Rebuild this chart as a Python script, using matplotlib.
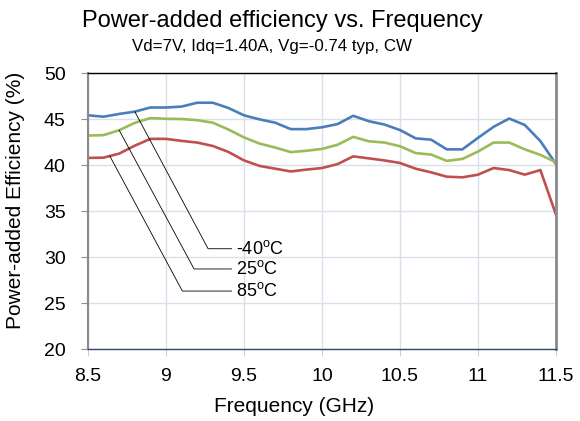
#!/usr/bin/env python
"""
Power-added efficiency vs. frequency at three temperatures.
"""

import numpy as np
import matplotlib
matplotlib.use('Agg')
import matplotlib.pyplot as plt

plt.rcParams['font.family'] = ['Liberation Sans', 'DejaVu Sans']
plt.rcParams['mathtext.fontset'] = 'custom'
plt.rcParams['mathtext.rm'] = 'Liberation Sans'

# data
freq = [8.5, 8.6, 8.7, 8.8, 8.9, 9.0, 9.1, 9.2, 9.3, 9.4, 9.5, 9.6, 9.7, 9.8, 9.9, 10.0,
        10.1, 10.2, 10.3, 10.4, 10.5, 10.6, 10.7, 10.8, 10.9, 11.0, 11.1, 11.2, 11.3, 11.4, 11.5]
pae_m40 = [45.4, 45.25, 45.55, 45.8, 46.25, 46.25, 46.35, 46.77, 46.77, 46.2, 45.4, 44.96, 44.6, 43.9, 43.9, 44.1,
           44.45, 45.35, 44.76, 44.4, 43.8, 42.9, 42.75, 41.7, 41.7, 42.95, 44.15, 45.05, 44.35, 42.6, 40.1]
pae_25 = [43.2, 43.25, 43.78, 44.58, 45.1, 45.02, 45.0, 44.87, 44.6, 43.86, 43.0, 42.33, 41.9, 41.4, 41.55, 41.75,
          42.2, 43.06, 42.58, 42.44, 42.04, 41.3, 41.13, 40.45, 40.66, 41.46, 42.44, 42.44, 41.7, 41.1, 40.3]
pae_85 = [40.77, 40.8, 41.24, 42.1, 42.84, 42.84, 42.62, 42.44, 42.07, 41.42, 40.5, 39.9, 39.6, 39.3, 39.5, 39.67,
          40.1, 40.94, 40.72, 40.5, 40.22, 39.6, 39.2, 38.73, 38.66, 38.95, 39.67, 39.45, 38.95, 39.45, 34.6]

series = [
    ('-40$^\\mathrm{o}$C', pae_m40, '#4a7ebb'),
    ('25$^\\mathrm{o}$C', pae_25, '#9bbb59'),
    ('85$^\\mathrm{o}$C', pae_85, '#c0504d'),
]

# leader lines: curve anchor freq, elbow point, label x
anchor_freq = [8.8, 8.7, 8.64]
elbow = [(9.27, 30.9), (9.18, 28.7), (9.105, 26.3)]
label_x = 9.42

fig = plt.figure(figsize=(5.8, 4.21), dpi=100)
ax = fig.add_axes([0.1517, 0.171, 0.8069, 0.6556])

for (label, vals, color) in series:
    ax.plot(freq, vals, color=color, lw=1.9, solid_joinstyle='round')

for (label, vals, color), fa, (ex, ey) in zip(series, anchor_freq, elbow):
    fy = np.interp(fa, freq, vals)
    ax.plot([fa, ex, label_x], [fy, ey, ey], color='black', lw=0.6)
    ax.text(label_x + 0.03, ey, label, fontsize=13, ha='left', va='center')

ax.set_xlim(8.5, 11.5)
ax.set_ylim(20, 50)
ax.set_xticks(np.arange(8.5, 11.51, 0.5))
ax.set_xticklabels(['8.5', '9', '9.5', '10', '10.5', '11', '11.5'])
ax.set_yticks(np.arange(20, 51, 5))
ax.grid(True, color='#d9e0ea', lw=1)
ax.set_axisbelow(True)

ax.tick_params(axis='x', labelsize=14, length=5, color='#c8d0dc', pad=9)
ax.tick_params(axis='y', labelsize=14, length=5, color='#909090', pad=11)

ax.spines['top'].set_color('black')
ax.spines['top'].set_linewidth(1)
ax.spines['bottom'].set_color('#2f4870')
ax.spines['bottom'].set_linewidth(1)
ax.spines['left'].set_color('#8a8a8a')
ax.spines['left'].set_linewidth(1.5)
ax.spines['right'].set_color('#8a8a8a')
ax.spines['right'].set_linewidth(2)

ax.set_xlabel('Frequency (GHz)', fontsize=15)
ax.xaxis.set_label_coords(0.44, -0.175)
ax.set_ylabel('Power-added Efficiency (%)', fontsize=15)
ax.yaxis.set_label_coords(-0.135, 0.54)

fig.text(0.487, 0.95, 'Power-added efficiency vs. Frequency', fontsize=17,
         ha='center', va='center')
fig.text(0.469, 0.89, 'Vd=7V, Idq=1.40A, Vg=-0.74 typ, CW', fontsize=12.2,
         ha='center', va='center')

plt.savefig('out.png', dpi=100)
